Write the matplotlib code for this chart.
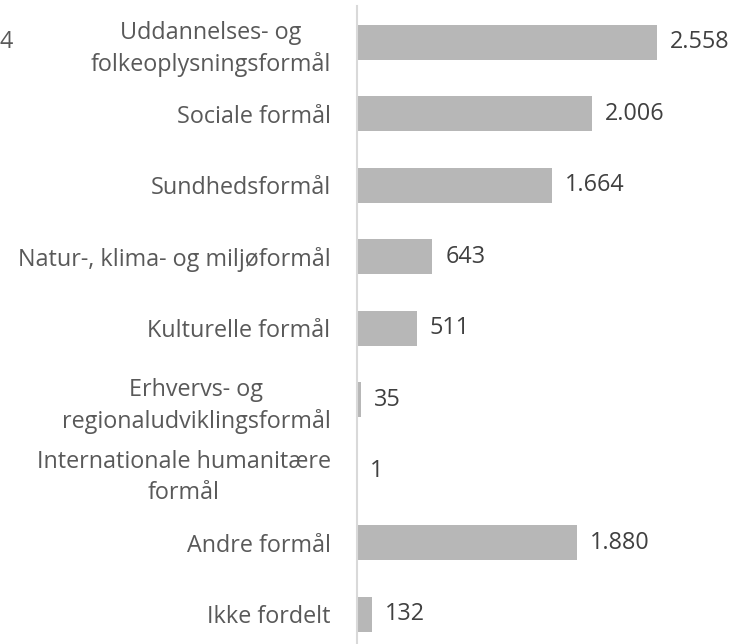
import matplotlib.pyplot as plt

categories = ["Uddannelses- og\nfolkeoplysningsformål", "Sociale formål", "Sundhedsformål",
              "Natur-, klima- og miljøformål", "Kulturelle formål",
              "Erhvervs- og\nregionaludviklingsformål", "Internationale humanitære\nformål",
              "Andre formål", "Ikke fordelt"]
values = [2558, 2006, 1664, 643, 511, 35, 1, 1880, 132]

plt.rcParams['font.family'] = ['Open Sans', 'DejaVu Sans']

fig = plt.figure(figsize=(7.35, 6.44), dpi=100)
ax = fig.add_axes([0.4857, -0.009, 0.5143, 0.999])

ypos = list(range(len(values)))
ax.barh(ypos, values, height=0.49, color="#b7b7b7")
ax.set_ylim(len(values) - 0.5, -0.5)
ax.set_xlim(0, 3223)

def fmt(v):
    return f"{v:,}".replace(",", ".")

for y, v in zip(ypos, values):
    ax.text(v + 110, y, fmt(v), va="center", ha="left", fontsize=16.8, color="#404040")

ax.set_yticks(ypos)
ax.set_yticklabels(categories, fontsize=16.8, color="#595959", linespacing=1.38,
                   multialignment="center")
ax.tick_params(axis="y", length=0, pad=19)
ax.set_xticks([])
for s in ["top", "right", "bottom"]:
    ax.spines[s].set_visible(False)
ax.spines["left"].set_color("#d9d9d9")
ax.spines["left"].set_linewidth(1.5)

# stray label cut off at left edge
fig.text(0.0, 1 - 42 / 644, "4", fontsize=16.8, color="#595959", va="center", ha="left")

fig.savefig("out.png", dpi=100)
